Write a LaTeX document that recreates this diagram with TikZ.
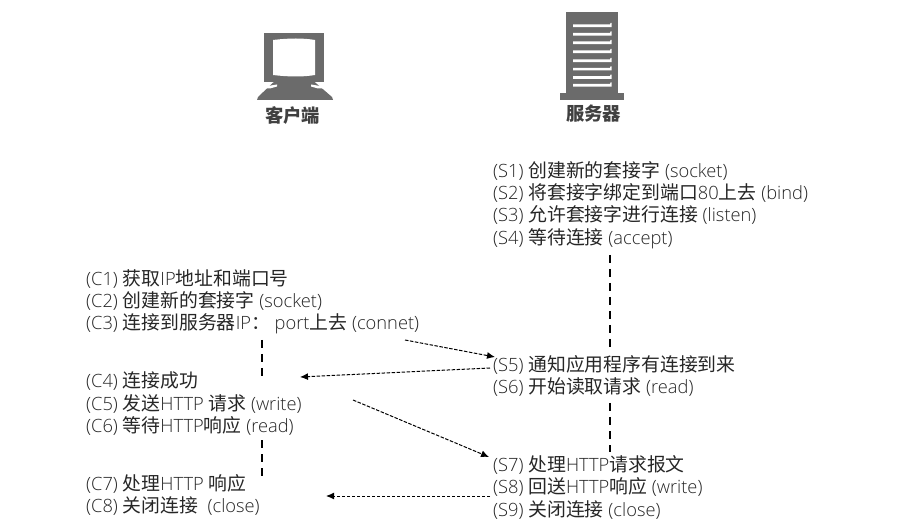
\documentclass[tikz,border=0pt]{standalone}
\usepackage{fontspec}
\setmainfont{Open Sans Light}[BoldFont=Open Sans]
\newfontfamily\cjk{Noto Sans CJK SC}[Scale=1.03]
\newfontfamily\cjkb{Noto Sans CJK SC}
\newcommand{\zh}[1]{{\cjk #1}}
\usetikzlibrary{arrows.meta}
\definecolor{icon}{gray}{0.42}
\tikzset{
  line/.style={anchor=base west,inner sep=0pt,font=\fontsize{18.3}{20}\selectfont,text=black!85},
  caption/.style={inner sep=0pt,font=\cjkb\fontsize{18.3}{20}\selectfont\bfseries,text=black!75},
  msg/.style={line width=1pt,dash pattern=on 3.5pt off 1.5pt,-{Latex[length=8pt,width=7pt]}},
  life/.style={line width=1.6pt,dash pattern=on 8pt off 6pt},
}
\begin{document}
\begin{tikzpicture}[x=1pt,y=-1pt]
\useasboundingbox (0,0) rectangle (921,526);
\fill[white] (0,0) rectangle (921,526);
% client icon
\fill[icon] (263.5,33) rectangle (324,82);
\fill[white] (273,40) .. controls (290,38) and (303,38) .. (315,40) -- (315,75) .. controls (303,77) and (290,77) .. (273,75) -- cycle;
\fill[icon] (278,78) -- (310,78) -- (332,97) -- (333,100) -- (257,100) -- (258,97) -- cycle;
\fill[white] (265,86.5) -- (277,84.5) -- (277,86.5) -- (270,88.5) -- (263,88.5) -- cycle;
\fill[white] (311,84.5) -- (323,86.5) -- (326,88.5) -- (318,88.5) -- (311,86.5) -- cycle;
% server icon
\fill[icon] (566,12) rectangle (618,93);
\fill[icon] (560,93) rectangle (624,100);
\foreach \y in {24.5,33,41.5,50.5,59.5,67.8,76.2,84}{
  \fill[white] (573,\y) -- (610,\y) -- (610.5,\y-1.5) -- (611.5,\y-1.5) -- (611.5,\y+2.6) -- (573,\y+2.6) -- cycle;
}
\node[caption] (client) at (292.5,116) {客户端};
\node[caption] (server) at (593.5,114) {服务器};
% server text
\node[line] (s1) at (493,178) {(S1) \zh{创建新的套接字} (socket)};
\node[line] (s2) at (493,200) {(S2) \zh{将套接字绑定到端口}80\zh{上去} (bind)};
\node[line] (s3) at (493,222) {(S3) \zh{允许套接字进行连接} (listen)};
\node[line] (s4) at (493,245) {(S4) \zh{等待连接} (accept)};
\node[line] (s5) at (493,372) {(S5) \zh{通知应用程序有连接到来}};
\node[line] (s6) at (493,394) {(S6) \zh{开始读取请求} (read)};
\node[line] (s7) at (493,471) {(S7) \zh{处理}HTTP\zh{请求报文}};
\node[line] (s8) at (493,493) {(S8) \zh{回送}HTTP\zh{响应} (write)};
\node[line] (s9) at (493,516) {(S9) \zh{关闭连接} (close)};
% client text
\node[line] (c1) at (86,286) {(C1) \zh{获取}IP\zh{地址和端口号}};
\node[line] (c2) at (86,308) {(C2) \zh{创建新的套接字} (socket)};
\node[line] (c3) at (86,330) {(C3) \zh{连接到服务器}IP\zh{：} port\zh{上去} (connet)};
\node[line] (c4) at (86,388) {(C4) \zh{连接成功}};
\node[line] (c5) at (86,410) {(C5) \zh{发送}HTTP \zh{请求} (write)};
\node[line] (c6) at (86,432) {(C6) \zh{等待}HTTP\zh{响应} (read)};
\node[line] (c7) at (86,490) {(C7) \zh{处理}HTTP \zh{响应}};
\node[line] (c8) at (86,512) {(C8) \zh{关闭连接} \ (close)};
% anchors
\coordinate (a1) at (405,340); \coordinate (a2) at (495,357);
\coordinate (b1) at (490,368); \coordinate (b2) at (300,377);
\coordinate (d1) at (353,400); \coordinate (d2) at (489,457);
\coordinate (e1) at (490,496); \coordinate (e2) at (326,496);
\coordinate (l1) at (262,340); \coordinate (l2) at (262,376);
\coordinate (l3) at (262,440); \coordinate (l4) at (262,476);
\coordinate (r1) at (610,255); \coordinate (r2) at (610,347);
\coordinate (r3) at (610,403); \coordinate (r4) at (610,452);
\draw[msg] (a1) -- (a2);
\draw[msg] (b1) -- (b2);
\draw[msg] (d1) -- (d2);
\draw[msg] (e1) -- (e2);
\draw[life] (l1) -- (l2);
\draw[life] (l3) -- (l4);
\draw[life] (r1) -- (r2);
\draw[life] (r3) -- (r4);
\end{tikzpicture}
\end{document}
